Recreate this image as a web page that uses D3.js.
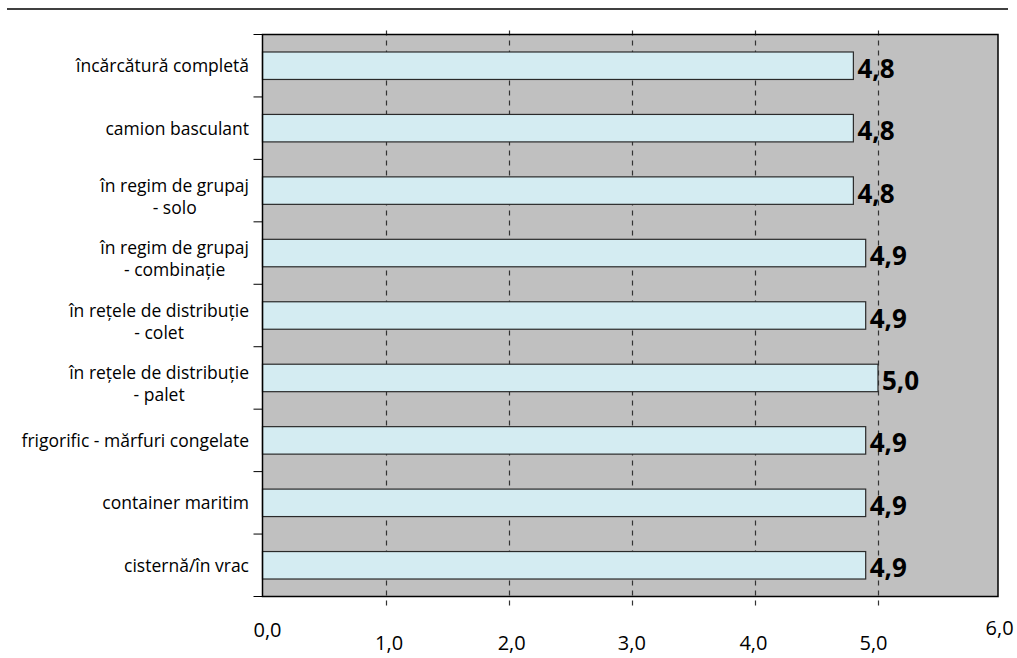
<!DOCTYPE html>
<html>
<head>
<meta charset="utf-8">
<script src="https://cdn.jsdelivr.net/npm/d3@7"></script>
<style>
  body { margin: 0; background: #fff; }
  svg { display: block; }
</style>
</head>
<body>
<div id="chart"></div>
<script>
// categories, top to bottom (second line after "|")
const categories = [
  "încărcătură completă",
  "camion basculant",
  "în regim de grupaj|- solo",
  "în regim de grupaj|- combinație",
  "în rețele de distribuție|- colet",
  "în rețele de distribuție|- palet",
  "frigorific - mărfuri congelate",
  "container maritim",
  "cisternă/în vrac"
]
const values = [4.8, 4.8, 4.8, 4.9, 4.9, 5.0, 4.9, 4.9, 4.9]
const xTicks = [0, 1, 2, 3, 4, 5, 6]
const tickLabels = ["0,0", "1,0", "2,0", "3,0", "4,0", "5,0", "6,0"]

const W = 1017, H = 658
const plotL = 262.5, plotT = 34.5, plotR = 998, plotB = 596.5
const font = "'Open Sans', sans-serif"
// tick labels in the original are staggered and a bit off their ticks
const tickDx = [5, 3.5, 3, 0, -1.5, -4.5, -1.5]
const tickY = [637, 650, 650, 650, 650, 650, 635]

const svg = d3.select("#chart").append("svg")
  .attr("width", W)
  .attr("height", H)

// rule across the top
svg.append("line")
  .attr("x1", 7).attr("x2", 1008)
  .attr("y1", 9).attr("y2", 9)
  .attr("stroke", "#000").attr("stroke-width", 1.5)

const x = d3.scaleLinear().domain([0, 6]).range([plotL, plotL + 6 * 123.1])
const y = d3.scaleBand().domain(categories).range([plotT, plotB]).paddingInner(0).paddingOuter(0)

// plot background
svg.append("rect")
  .attr("x", plotL).attr("y", plotT)
  .attr("width", plotR - plotL).attr("height", plotB - plotT)
  .attr("fill", "#c0c0c0")

// dashed grid
svg.append("g")
  .selectAll("line")
  .data(xTicks.filter(d => d > 0 && d < 6))
  .enter().append("line")
    .attr("x1", d => Math.round(x(d)) + 0.5)
    .attr("x2", d => Math.round(x(d)) + 0.5)
    .attr("y1", plotT - 4).attr("y2", plotB + 12)
    .attr("stroke", "#333").attr("stroke-width", 1.2)
    .attr("stroke-dasharray", "5,5")

// bars
const bh = y.bandwidth() * 0.44
svg.append("g")
  .selectAll("rect")
  .data(values)
  .enter().append("rect")
    .attr("x", plotL)
    .attr("y", (d, i) => y(categories[i]) + (y.bandwidth() - bh) / 2)
    .attr("width", d => x(d) - plotL)
    .attr("height", bh)
    .attr("fill", "#d4ecf2")
    .attr("stroke", "#2a2a2a")
    .attr("stroke-width", 1.2)

// value labels
svg.append("g")
  .selectAll("text")
  .data(values)
  .enter().append("text")
    .attr("x", d => x(d) + 4)
    .attr("y", (d, i) => y(categories[i]) + y.bandwidth() / 2 + 12)
    .style("font-family", font)
    .style("font-weight", "bold")
    .style("font-size", "26px")
    .style("fill", "#000")
    .text(d => d.toFixed(1).replace(".", ","))

// plot frame
svg.append("rect")
  .attr("x", plotL).attr("y", plotT)
  .attr("width", plotR - plotL).attr("height", plotB - plotT)
  .attr("fill", "none")
  .attr("stroke", "#000").attr("stroke-width", 1.5)

// category boundary ticks
const bounds = categories.map(c => y(c)).concat([plotB])
svg.append("g")
  .selectAll("line")
  .data(bounds)
  .enter().append("line")
    .attr("x1", plotL - 9).attr("x2", plotL)
    .attr("y1", d => d).attr("y2", d => d)
    .attr("stroke", "#000").attr("stroke-width", 1)

// category labels, right aligned, second line centred under the first
const labelRight = 249
const lab = svg.append("g")
  .style("font-family", font).style("font-size", "17.5px")
categories.forEach(c => {
  const lines = c.split("|")
  const cy = y(c) + y.bandwidth() / 2
  if (lines.length === 1) {
    lab.append("text")
      .attr("x", labelRight).attr("y", cy + 6.5)
      .attr("text-anchor", "end")
      .text(lines[0])
  } else {
    const t = lab.append("text")
      .attr("x", labelRight).attr("y", cy + 1)
      .attr("text-anchor", "end")
      .text(lines[0])
    const w = t.node().getComputedTextLength()
    lab.append("text")
      .attr("x", labelRight - w / 2).attr("y", cy + 23)
      .attr("text-anchor", "middle")
      .text(lines[1])
  }
})

// x tick labels
svg.append("g")
  .selectAll("text")
  .data(xTicks)
  .enter().append("text")
    .attr("x", (d, i) => x(d) + tickDx[i])
    .attr("y", (d, i) => tickY[i])
    .attr("text-anchor", "middle")
    .style("font-family", font)
    .style("font-size", "20px")
    .text((d, i) => tickLabels[i])
</script>
</body>
</html>
